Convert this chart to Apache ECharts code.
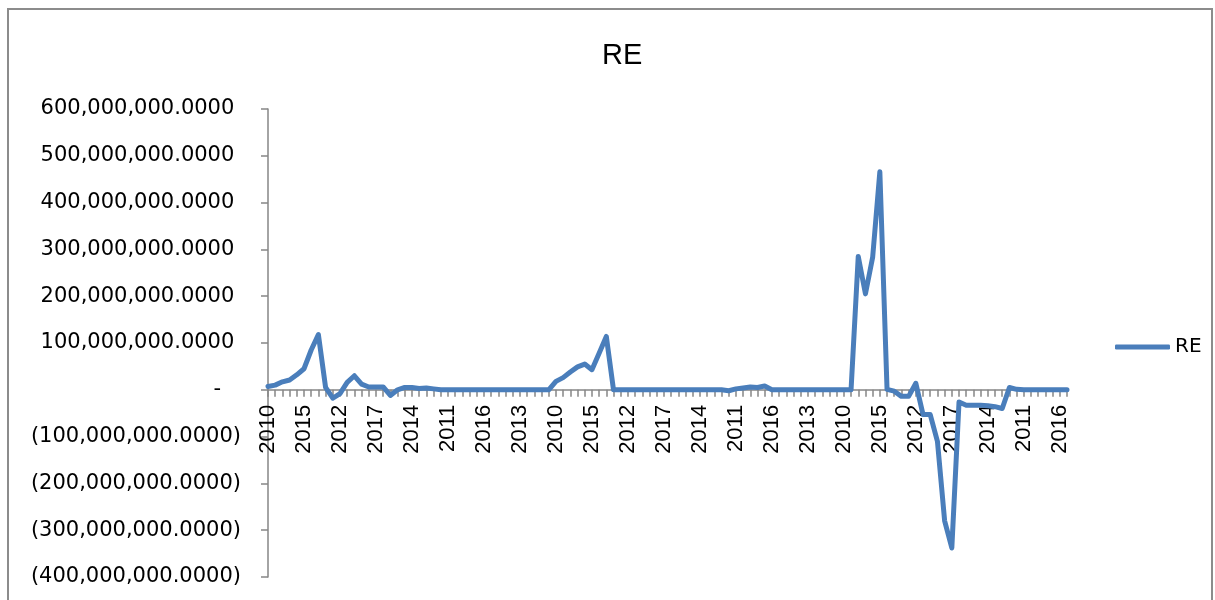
<!DOCTYPE html>
<html>
<head>
<meta charset="utf-8">
<script src="https://cdn.jsdelivr.net/npm/echarts@6/dist/echarts.min.js"></script>
<style>html,body{margin:0;padding:0;background:#fff}#chart{width:1215px;height:600px}</style>
</head>
<body>
<div id="chart"></div>
<script>
const categories = [
  '2010','2011','2012','2013','2014','2015','2016','2017',
  '2010','2011','2012','2013','2014','2015','2016','2017',
  '2010','2011','2012','2013','2014','2015','2016','2017',
  '2010','2011','2012','2013','2014','2015','2016','2017',
  '2010','2011','2012','2013','2014','2015','2016','2017',
  '2010','2011','2012','2013','2014','2015','2016','2017',
  '2010','2011','2012','2013','2014','2015','2016','2017',
  '2010','2011','2012','2013','2014','2015','2016','2017',
  '2010','2011','2012','2013','2014','2015','2016','2017',
  '2010','2011','2012','2013','2014','2015','2016','2017',
  '2010','2011','2012','2013','2014','2015','2016','2017',
  '2010','2011','2012','2013','2014','2015','2016','2017',
  '2010','2011','2012','2013','2014','2015','2016','2017',
  '2010','2011','2012','2013','2014','2015','2016','2017'
];

const reValues = [
  7e6, 10e6, 17e6, 21e6, 32e6, 45e6, 85e6, 118e6,
  5e6, -18e6, -8e6, 16e6, 30e6, 12e6, 6e6, 6e6,
  6e6, -12e6, 0, 5e6, 5e6, 3e6, 4e6, 2e6,
  0, 0, 0, 0, 0, 0, 0, 0,
  0, 0, 0, 0, 0, 0, 0, 0,
  18e6, 26e6, 38e6, 49e6, 55e6, 43e6, 78e6, 114e6,
  0, 0, 0, 0, 0, 0, 0, 0,
  0, 0, 0, 0, 0, 0, 0, 0,
  -2e6, 2e6, 4e6, 6e6, 5e6, 8e6, 0, 0,
  0, 0, 0, 0, 0, 0, 0, 0,
  0, 0, 285e6, 205e6, 283e6, 466e6, 1e6, -3e6,
  -14e6, -14e6, 14e6, -53e6, -53e6, -110e6, -280e6, -338e6,
  -26e6, -33e6, -33e6, -33e6, -34e6, -36e6, -40e6, 5e6,
  1e6, 0, 0, 0, 0, 0, 0, 0
];

const yMin = -400000000;
const yMax = 600000000;
const yStep = 100000000;

const gridTop = 109;
const gridBottom = 23;
const plotHeight = 600 - gridTop - gridBottom;
// distance from the bottom of the plot up to the zero line
const zeroOffset = plotHeight * (0 - yMin) / (yMax - yMin);

function withCommas(n) {
  const parts = n.toFixed(4).split('.');
  parts[0] = parts[0].replace(/\B(?=(\d{3})+(?!\d))/g, ',');
  return parts.join('.');
}
function fmtY(v) {
  if (v === 0) return '-   ';
  const s = withCommas(Math.abs(v));
  return v < 0 ? '(' + s + ')' : s + ' ';
}

const chart = echarts.init(document.getElementById('chart'), null, {renderer: 'canvas'});
chart.setOption({
  animation: false,
  backgroundColor: '#ffffff',
  title: {
    text: 'RE',
    left: 597,
    top: 36,
    textStyle: {fontFamily: 'Liberation Sans Narrow, Liberation Sans', fontSize: 29, fontWeight: 'normal', color: '#000'}
  },
  graphic: [{
    type: 'rect',
    shape: {x: 8, y: 9, width: 1204, height: 700},
    style: {fill: 'none', stroke: '#8c8c8c', lineWidth: 2},
    silent: true
  }],
  legend: {
    data: ['RE'],
    left: 1110,
    top: 332,
    icon: 'roundRect',
    itemWidth: 55,
    itemHeight: 5,
    itemGap: 5,
    textStyle: {fontFamily: 'DejaVu Sans', fontSize: 20, color: '#000'}
  },
  grid: {left: 268, right: 148, top: gridTop, bottom: gridBottom, containLabel: false, outerBoundsMode: 'none'},
  xAxis: {
    type: 'category',
    data: categories,
    boundaryGap: false,
    position: 'bottom',
    offset: -zeroOffset,
    axisLine: {onZero: false, lineStyle: {color: '#868686', width: 1.5}},
    axisTick: {show: true, interval: 0, length: 7, lineStyle: {color: '#868686', width: 1.5}},
    axisLabel: {interval: 4, rotate: 90, margin: 15, fontFamily: 'Liberation Sans', fontSize: 22, color: '#000'},
    splitLine: {show: false}
  },
  yAxis: {
    type: 'value',
    min: yMin,
    max: yMax,
    interval: yStep,
    splitLine: {show: false},
    axisLine: {show: true, lineStyle: {color: '#868686', width: 1.5}},
    axisTick: {show: true, length: 7, lineStyle: {color: '#868686', width: 1.5}},
    axisLabel: {formatter: fmtY, margin: 27, fontFamily: 'DejaVu Sans', fontSize: 21, color: '#000'}
  },
  series: [{
    name: 'RE',
    type: 'line',
    data: reValues,
    symbol: 'none',
    color: '#4A7EBB',
    lineStyle: {color: '#4A7EBB', width: 5, cap: 'round', join: 'round'},
    itemStyle: {color: '#4A7EBB'}
  }]
});
</script>
</body>
</html>
